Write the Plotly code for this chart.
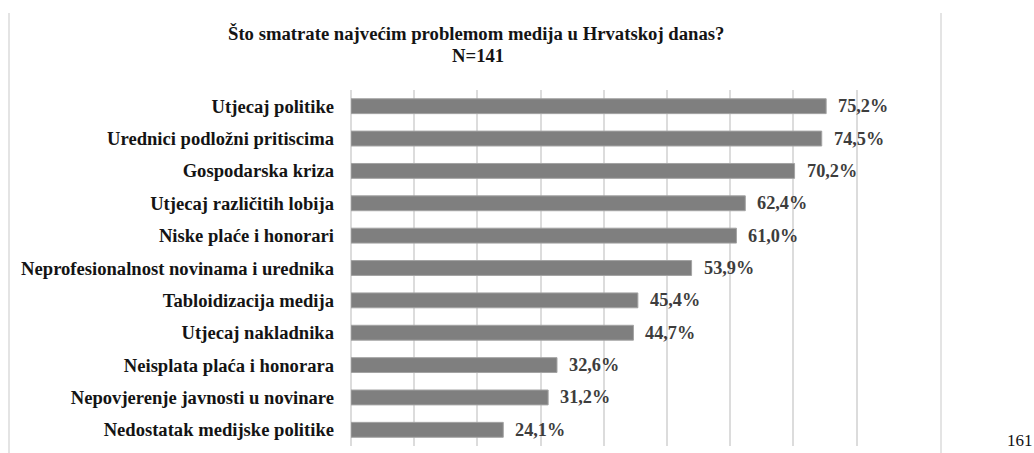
import plotly.graph_objects as go

# Survey answers, listed from the top of the chart downward
categories = [
    "Utjecaj politike",
    "Urednici podložni pritiscima",
    "Gospodarska kriza",
    "Utjecaj različitih lobija",
    "Niske plaće i honorari",
    "Neprofesionalnost novinama i urednika",
    "Tabloidizacija medija",
    "Utjecaj nakladnika",
    "Neisplata plaća i honorara",
    "Nepovjerenje javnosti u novinare",
    "Nedostatak medijske politike",
]
percentages = [75.2, 74.5, 70.2, 62.4, 61.0, 53.9, 45.4, 44.7, 32.6, 31.2, 24.1]

title_line = "Što smatrate najvećim problemom medija u Hrvatskoj danas?"
sample_line = "N=141"
page_number = "161"

W, H = 1034, 453
L, R, T, B = 351, 114, 90, 7
plot_w = W - L - R
plot_h = H - T - B


def px_x(px):
    return (px - L) / plot_w


def px_y(py):
    return (H - B - py) / plot_h


serif = "Liberation Serif"
labels = [f"{v:.1f}".replace(".", ",") + "%" for v in percentages]

fig = go.Figure(
    go.Bar(
        x=percentages,
        y=categories,
        orientation="h",
        marker=dict(color="#7f7f7f", line=dict(color="#a3a3a3", width=1)),
        hoverinfo="skip",
    )
)

# value labels placed just right of each bar end
for cat, v, lab in zip(categories, percentages, labels):
    fig.add_annotation(
        x=v, y=cat, xref="x", yref="y", text=lab, showarrow=False,
        xanchor="left", xshift=10, yshift=0,
        font=dict(family=serif, size=18.3, color="#3d3d3d", weight="bold"),
    )

# chart title (two lines)
fig.add_annotation(
    x=px_x(476), y=px_y(33), xref="paper", yref="paper", text=title_line,
    showarrow=False, xanchor="center", yanchor="middle",
    font=dict(family=serif, size=18.7, color="#141414", weight="bold"),
)
fig.add_annotation(
    x=px_x(478), y=px_y(55), xref="paper", yref="paper", text=sample_line,
    showarrow=False, xanchor="center", yanchor="middle",
    font=dict(family=serif, size=18.7, color="#141414", weight="bold"),
)

# page number
fig.add_annotation(
    x=px_x(1020), y=px_y(440), xref="paper", yref="paper", text=page_number,
    showarrow=False, xanchor="center", yanchor="middle",
    font=dict(family=serif, size=17, color="#111111"),
)

# left and right edges of the chart frame
for ex in (9, 941):
    fig.add_shape(
        type="line", xref="paper", yref="paper",
        x0=px_x(ex), x1=px_x(ex), y0=px_y(13), y1=px_y(H + 2),
        line=dict(color="#e4e4e4", width=2),
    )

fig.update_layout(
    width=W, height=H,
    margin=dict(l=L, r=R, t=T, b=B),
    paper_bgcolor="white", plot_bgcolor="white",
    bargap=0.54,
    showlegend=False,
    xaxis=dict(
        range=[0, 90.05], dtick=10, tick0=0, showticklabels=False,
        showgrid=True, gridcolor="#dcdcdc", gridwidth=1.6,
        zeroline=True, zerolinecolor="#dcdcdc", zerolinewidth=1.6,
        showline=False, fixedrange=True,
    ),
    yaxis=dict(
        autorange="reversed", showgrid=False, zeroline=False, showline=False,
        ticks="", ticklabelstandoff=16,
        tickfont=dict(family=serif, size=18.6, color="#141414", weight="bold"),
        fixedrange=True,
    ),
)

fig.write_html("out.html")
